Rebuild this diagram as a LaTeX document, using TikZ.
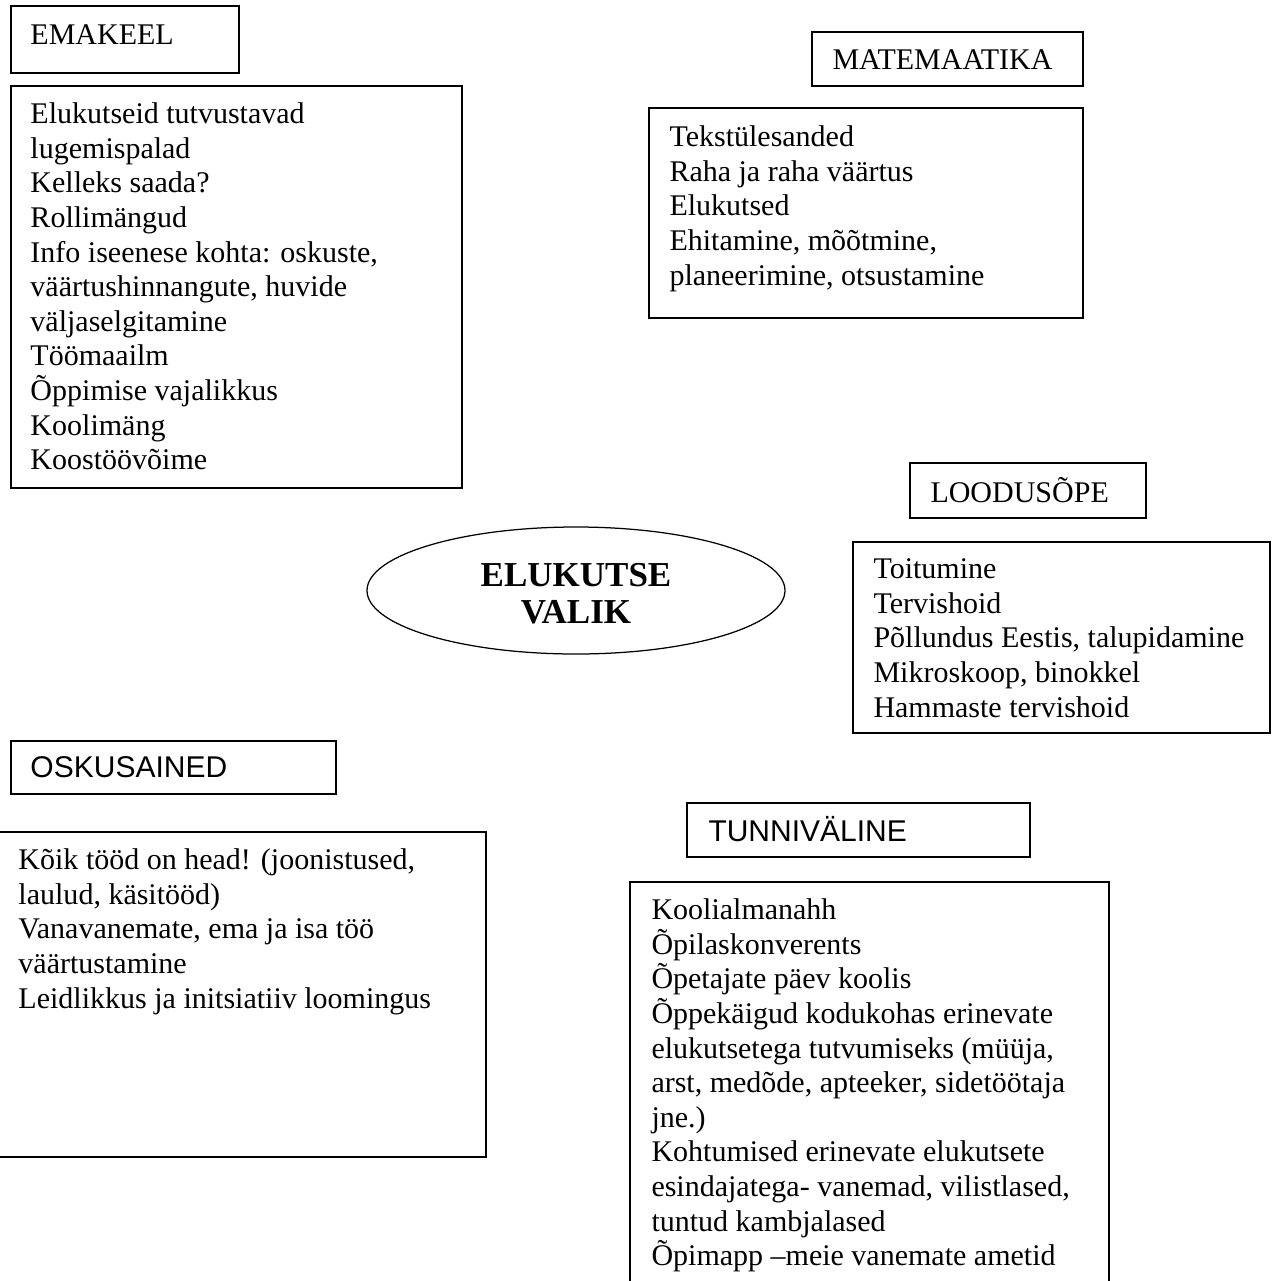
\documentclass[tikz,border=0pt]{standalone}
\usepackage{fontspec}
\setmainfont{Liberation Serif}
\setsansfont{Liberation Sans}
\usetikzlibrary{shapes.geometric}

\tikzset{
  frame/.style={line width=0.5pt},
  title/.style={anchor=base west, inner sep=0pt, font=\fontsize{12}{13.85}\selectfont},
  sanstitle/.style={title, font=\fontsize{12}{13.85}\selectfont\sffamily},
  itemlist/.style={anchor=north west, inner sep=0pt, align=left, yshift=7.9pt,
    font=\fontsize{12}{13.85}\selectfont,
    execute at begin node={\rule{0pt}{9.695pt}}},
}

\begin{document}
\begin{tikzpicture}[x=0.4pt, y=-0.4pt]
    \useasboundingbox (0,0) rectangle (1273,1281);

    % Emakeel
    \draw[frame] (11,6) rectangle (239,73);
    \node[title] (emakeel) at (30,44) {EMAKEEL};
    \draw[frame] (11,86) rectangle (462,488);
    \node[itemlist] (emakeelsisu) at (30,122) {Elukutseid tutvustavad\\
      lugemispalad\\ Kelleks saada?\\ Rollimängud\\
      Info iseenese kohta: oskuste,\\ väärtushinnangute, huvide\\
      väljaselgitamine\\ Töömaailm\\ Õppimise vajalikkus\\
      Koolimäng\\ Koostöövõime};

    % Matemaatika
    \draw[frame] (812,32) rectangle (1083,86);
    \node[title] (matemaatika) at (832,69) {MATEMAATIKA};
    \draw[frame] (649,108) rectangle (1083,318);
    \node[itemlist] (matemaatikasisu) at (669,145) {Tekstülesanded\\
      Raha ja raha väärtus\\ Elukutsed\\ Ehitamine, mõõtmine,\\
      planeerimine, otsustamine};

    % Keskne teema
    \node[ellipse, draw, frame, minimum width=167.2pt, minimum height=50.8pt,
      inner sep=0pt, align=center, font=\fontsize{14}{14.8}\selectfont\bfseries]
      (valik) at (576,590.5) {\rule{0pt}{11.7pt}ELUKUTSE\\VALIK};

    % Loodusõpe
    \draw[frame] (910,463) rectangle (1146,518);
    \node[title] (loodus) at (930,502) {LOODUSÕPE};
    \draw[frame] (853,542) rectangle (1270,733);
    \node[itemlist] (loodussisu) at (873,578) {Toitumine\\ Tervishoid\\
      Põllundus Eestis, talupidamine\\ Mikroskoop, binokkel\\
      Hammaste tervishoid};

    % Oskusained
    \draw[frame] (11,741) rectangle (336,794);
    \node[sanstitle] (oskus) at (30,777) {OSKUSAINED};
    \draw[frame] (-3,832) rectangle (486,1157);
    \node[itemlist] (oskussisu) at (18,868) {Kõik tööd on head! (joonistused,\\
      laulud, käsitööd)\\ Vanavanemate, ema ja isa töö\\ väärtustamine\\
      Leidlikkus ja initsiatiiv loomingus};

    % Tunniväline
    \draw[frame] (687,803) rectangle (1030,857);
    \node[sanstitle] (tunni) at (708,841) {TUNNIVÄLINE};
    \draw[frame] (630,1290) -- (630,882) -- (1109,882) -- (1109,1290);
    \node[itemlist] (tunnisisu) at (651,918) {Koolialmanahh\\
      Õpilaskonverents\\ Õpetajate päev koolis\\
      Õppekäigud kodukohas erinevate\\
      elukutsetega tutvumiseks (müüja,\\
      arst, medõde, apteeker, sidetöötaja\\ jne.)\\
      Kohtumised erinevate elukutsete\\
      esindajatega- vanemad, vilistlased,\\
      tuntud kambjalased\\ Õpimapp –meie vanemate ametid};
\end{tikzpicture}
\end{document}
